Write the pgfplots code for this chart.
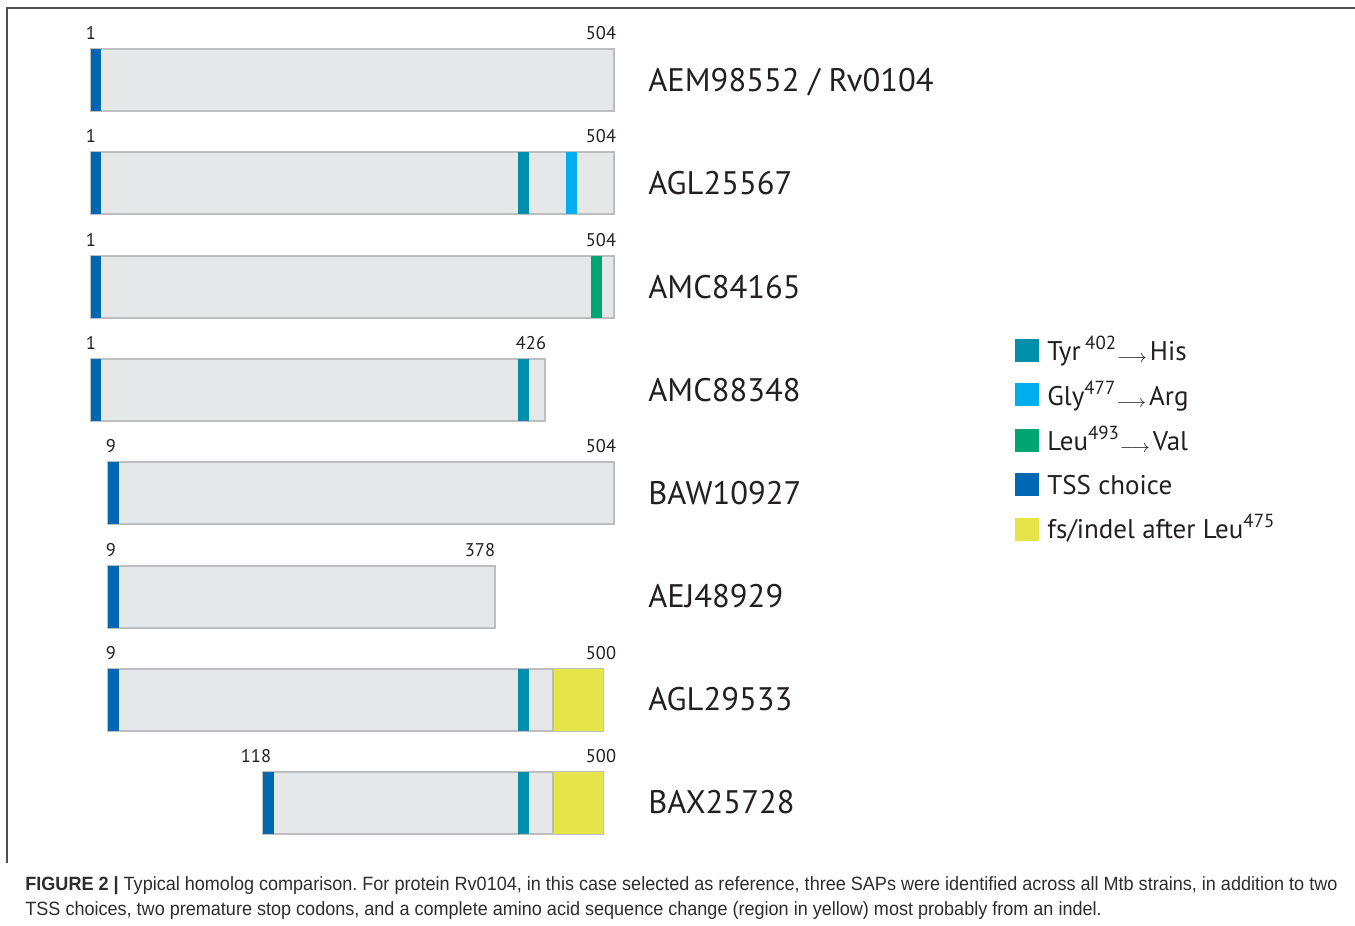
\documentclass[border=0pt]{standalone}
\usepackage{fontspec}
\setmainfont{PT Sans}
\newfontfamily\capfont[FakeStretch=0.94]{Liberation Sans}
\usepackage{pgfplots}
\pgfplotsset{compat=1.18}
\frenchspacing
\definecolor{barfill}{RGB}{230,231,232}
\definecolor{barline}{RGB}{190,190,192}
\definecolor{tss}{RGB}{0,103,178}
\definecolor{tyr}{RGB}{0,143,170}
\definecolor{gly}{RGB}{0,174,239}
\definecolor{leu}{RGB}{0,166,111}
\definecolor{indel}{RGB}{229,229,74}
\definecolor{txt}{RGB}{35,31,32}
\definecolor{captxt}{RGB}{45,45,45}
\definecolor{frame}{RGB}{80,80,80}
% segment: x0, x1, ytop, ybottom, colour
\newcommand{\seg}[5]{\addplot[fill=#5, draw=none, forget plot] coordinates {(#1,#3) (#2,#3) (#2,#4) (#1,#4)} -- cycle;}
\newcommand{\protbar}[4]{\addplot[fill=barfill, draw=barline, line width=0.6pt, forget plot] coordinates {(#1,#3) (#2,#3) (#2,#4) (#1,#4)} -- cycle;}
\newcommand{\arr}{\raisebox{-0.2ex}{$\scriptstyle\longrightarrow$}\kern1.5pt}
\begin{document}
\begin{tikzpicture}
\begin{axis}[scale only axis, width=677.5pt, height=463pt,
  xmin=0, xmax=1355, ymin=0, ymax=926, y dir=reverse,
  hide axis, clip=false]
% frame
\addplot[draw=frame, line width=0.9pt, forget plot] coordinates {(7,863) (7,8) (1355,8)};
% row 1
\protbar{91}{614}{49}{111}
\seg{91}{101}{49}{111}{tss}
% row 2
\protbar{91}{614}{152}{214}
\seg{91}{101}{152}{214}{tss}
\seg{518}{529}{152}{214}{tyr}
\seg{566}{577}{152}{214}{gly}
% row 3
\protbar{91}{614}{256}{318}
\seg{91}{101}{256}{318}{tss}
\seg{591}{602}{256}{318}{leu}
% row 4
\protbar{91}{545}{359}{421}
\seg{91}{101}{359}{421}{tss}
\seg{518}{529}{359}{421}{tyr}
% row 5
\protbar{108}{614}{462}{524}
\seg{108}{119}{462}{524}{tss}
% row 6
\protbar{108}{495}{566}{628}
\seg{108}{119}{566}{628}{tss}
% row 7
\protbar{108}{603}{669}{731}
\seg{108}{119}{669}{731}{tss}
\seg{518}{529}{669}{731}{tyr}
\seg{553}{603}{669}{731}{indel}
\addplot[draw=barline, line width=0.6pt, forget plot] coordinates {(553,669) (553,731)};
% row 8
\protbar{263}{603}{772}{834}
\seg{263}{274}{772}{834}{tss}
\seg{518}{529}{772}{834}{tyr}
\seg{553}{603}{772}{834}{indel}
\addplot[draw=barline, line width=0.6pt, forget plot] coordinates {(553,772) (553,834)};
% legend squares
\seg{1015}{1039}{339}{362}{tyr}
\seg{1015}{1039}{383}{406}{gly}
\seg{1015}{1039}{429}{452}{leu}
\seg{1015}{1039}{473}{496}{tss}
\seg{1015}{1039}{518}{541}{indel}
% position numbers
\begin{scope}[every node/.style={font=\fontsize{9.2}{11}\selectfont, text=txt, inner sep=0pt}]
\node at (axis cs:91,33) {1};    \node at (axis cs:601,33) {504};
\node at (axis cs:91,136) {1};   \node at (axis cs:601,136) {504};
\node at (axis cs:91,240) {1};   \node at (axis cs:601,240) {504};
\node at (axis cs:91,343) {1};   \node at (axis cs:531,343) {426};
\node at (axis cs:111,446) {9};  \node at (axis cs:601,446) {504};
\node at (axis cs:111,550) {9};  \node at (axis cs:480,550) {378};
\node at (axis cs:111,653) {9};  \node at (axis cs:601,653) {500};
\node at (axis cs:256,756) {118};\node at (axis cs:601,756) {500};
\end{scope}
% names
\begin{scope}[every node/.style={font=\fontsize{16.3}{19}\selectfont, text=txt, inner sep=0pt, anchor=base west}]
\node at (axis cs:648,91) {AEM98552 / Rv0104};
\node at (axis cs:648,194) {AGL25567};
\node at (axis cs:648,298) {AMC84165};
\node at (axis cs:648,401) {AMC88348};
\node at (axis cs:648,504) {BAW10927};
\node at (axis cs:648,607) {AEJ48929};
\node at (axis cs:648,710) {AGL29533};
\node at (axis cs:648,813) {BAX25728};
\end{scope}
% legend text
\begin{scope}[every node/.style={font=\fontsize{13.5}{16}\selectfont, text=txt, inner sep=0pt, anchor=base west}]
\node at (axis cs:1047,360) {Tyr\,\textsuperscript{402}\arr His};
\node at (axis cs:1047,405) {Gly\textsuperscript{477}\arr Arg};
\node at (axis cs:1047,450) {Leu\textsuperscript{493}\arr Val};
\node at (axis cs:1047,494) {TSS choice};
\node at (axis cs:1047,538) {fs/indel after Leu\textsuperscript{475}};
\end{scope}
% caption
\begin{scope}[every node/.style={font=\capfont\fontsize{9.6}{11}\selectfont, text=captxt, inner sep=0pt, anchor=base west}]
\node at (axis cs:25,890) {\textbf{FIGURE 2 |} Typical homolog comparison. For protein Rv0104, in this case selected as reference, three SAPs were identified across all Mtb strains, in addition to two};
\node at (axis cs:25,915) {TSS choices, two premature stop codons, and a complete amino acid sequence change (region in yellow) most probably from an indel.};
\end{scope}
\end{axis}
\pgfresetboundingbox
\path (current axis.south west) rectangle (current axis.north east);
\end{tikzpicture}
\end{document}
